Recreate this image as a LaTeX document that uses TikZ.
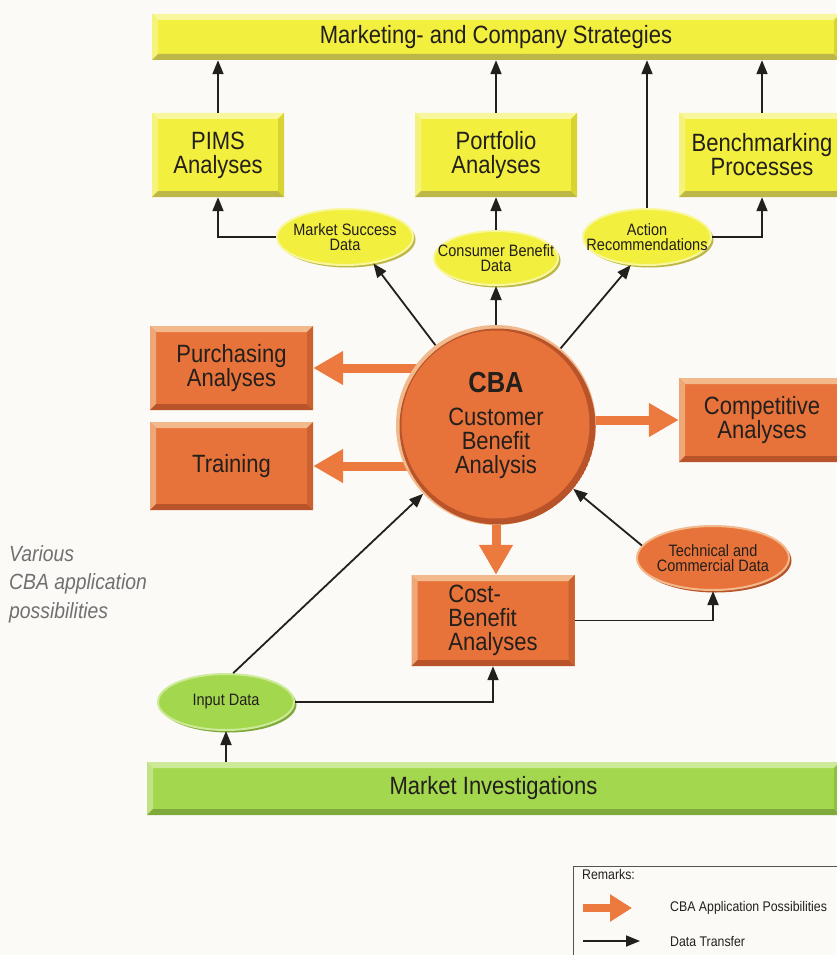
\documentclass[tikz,border=0pt]{standalone}
\usepackage{fontspec}
\setmainfont{Liberation Sans}[FakeStretch=0.88]
\usetikzlibrary{arrows.meta,shapes.geometric,shadows,calc}

% palette
\definecolor{paper}{HTML}{FBFAF7}
\definecolor{ink}{HTML}{231F1C}
\definecolor{ylface}{HTML}{F2EF3F}
\definecolor{yltop}{HTML}{F9F79E}
\definecolor{ylleft}{HTML}{F6F37C}
\definecolor{ylbottom}{HTML}{BDB747}
\definecolor{ylright}{HTML}{D8D432}
\definecolor{orface}{HTML}{E8733A}
\definecolor{ortop}{HTML}{F2B98C}
\definecolor{orleft}{HTML}{EFA777}
\definecolor{orbottom}{HTML}{B9532A}
\definecolor{orright}{HTML}{CC6130}
\definecolor{grface}{HTML}{A3D84E}
\definecolor{grtop}{HTML}{CDEA98}
\definecolor{grleft}{HTML}{BFE385}
\definecolor{grbottom}{HTML}{7FA93B}
\definecolor{grright}{HTML}{8FBE42}
\definecolor{orarrow}{HTML}{EC7A3F}
\definecolor{sidegray}{HTML}{707070}
\definecolor{legline}{HTML}{555555}

\pgfdeclarelayer{paperlayer}
\pgfdeclarelayer{back}
\pgfsetlayers{paperlayer,back,main}

% bevelled frame drawn inside a rectangular node: top, left, bottom, right
\newcommand{\bevelfaces}[4]{%
  \path (path picture bounding box.north west) coordinate (bvNW)
        (path picture bounding box.north east) coordinate (bvNE)
        (path picture bounding box.south west) coordinate (bvSW)
        (path picture bounding box.south east) coordinate (bvSE);
  \fill[#1] (bvNW) -- (bvNE) -- ([shift={(-6pt,-6pt)}]bvNE) -- ([shift={(6pt,-6pt)}]bvNW) -- cycle;
  \fill[#2] (bvNW) -- ([shift={(6pt,-6pt)}]bvNW) -- ([shift={(6pt,6pt)}]bvSW) -- (bvSW) -- cycle;
  \fill[#3] (bvSW) -- (bvSE) -- ([shift={(-6pt,6pt)}]bvSE) -- ([shift={(6pt,6pt)}]bvSW) -- cycle;
  \fill[#4] (bvNE) -- (bvSE) -- ([shift={(-6pt,6pt)}]bvSE) -- ([shift={(-6pt,-6pt)}]bvNE) -- cycle;
}
\newcommand{\bxfont}{\fontsize{25}{24}\selectfont}
\newcommand{\elfont}{\fontsize{16.5}{15}\selectfont}

\begin{document}
\begin{tikzpicture}[x=1pt,y=-1pt,
  every node/.style={text=ink},
  boxbase/.style={rectangle, inner sep=0pt, align=center, font=\bxfont},
  yellowbox/.style={boxbase, fill=ylface, path picture={\bevelfaces{yltop}{ylleft}{ylbottom}{ylright}}},
  orangebox/.style={boxbase, fill=orface, path picture={\bevelfaces{ortop}{orleft}{orbottom}{orright}}},
  greenbox/.style={boxbase, fill=grface, path picture={\bevelfaces{grtop}{grleft}{grbottom}{grright}}},
  ellbase/.style={ellipse, inner sep=-16pt, align=center, font=\elfont, line width=2pt},
  yellowell/.style={ellbase, fill=ylface, draw=yltop,
    drop shadow={shadow xshift=2.5pt, shadow yshift=-2.5pt, fill=ylbottom, opacity=1}},
  orangeell/.style={ellbase, fill=orface, draw=ortop,
    drop shadow={shadow xshift=2.5pt, shadow yshift=-2.5pt, fill=orbottom, opacity=1}},
  greenell/.style={ellbase, fill=grface, draw=grtop,
    drop shadow={shadow xshift=2.5pt, shadow yshift=-2.5pt, fill=grbottom, opacity=1}},
  cbacircle/.style={circle, minimum size=200pt, inner sep=0pt, align=center, font=\bxfont,
    path picture={
      \fill[ortop] (path picture bounding box.south west) rectangle (path picture bounding box.north east);
      \fill[orbottom] ([shift={(1.5pt,-1.5pt)}]path picture bounding box.center) circle (98pt);
      \fill[orface] ([shift={(-0.5pt,0.5pt)}]path picture bounding box.center) circle (94pt);
    }},
  data/.style={draw=ink, line width=1.8pt, -{Triangle[length=14pt,width=11pt]}},
  cbaarrow/.style={draw=orarrow, line width=9pt, -{Triangle[length=30pt,width=32pt]}},
  sidetext/.style={text=sidegray, font=\fontsize{22}{28}\selectfont\itshape, anchor=base west, inner sep=0pt},
  legendtext/.style={font=\fontsize{14}{14}\selectfont, inner sep=0pt}
]
\useasboundingbox (0,0) rectangle (836,955);
\begin{pgfonlayer}{paperlayer}
  \fill[paper] (0,0) rectangle (836,955);
\end{pgfonlayer}

% top and bottom bars
\node[yellowbox, minimum width=688pt, minimum height=46pt] (top) at (496,37) {Marketing- and Company Strategies};
\node[greenbox, minimum width=693pt, minimum height=53pt] (mi) at (493.5,788.5) {Market Investigations};

% analysis boxes
\node[yellowbox, minimum width=132pt, minimum height=84pt] (pims) at (218,155) {PIMS\\Analyses};
\node[yellowbox, minimum width=162pt, minimum height=84pt] (port) at (496,155) {Portfolio\\Analyses};
\node[yellowbox, minimum width=166pt, minimum height=84pt] (bench) at (762,155) {Benchmarking\\Processes};
\node[orangebox, minimum width=163pt, minimum height=84pt] (purch) at (231.5,368) {Purchasing\\Analyses};
\node[orangebox, minimum width=163pt, minimum height=88pt] (train) at (231.5,466) {Training};
\node[orangebox, minimum width=166pt, minimum height=84pt] (comp) at (762,420) {Competitive\\Analyses};
\node[orangebox, minimum width=163pt, minimum height=91pt, align=left] (cost) at (493,620.5) {Cost-\\Benefit\\Analyses};

% data ellipses
\node[yellowell, minimum width=136pt, minimum height=56pt] (msd) at (345,237) {Market Success\\Data};
\node[yellowell, minimum width=124pt, minimum height=54pt] (cbd) at (496,258) {Consumer Benefit\\Data};
\node[yellowell, minimum width=128pt, minimum height=56pt] (act) at (647,237) {Action\\Recommendations};
\node[orangeell, minimum width=152pt, minimum height=64pt] (tech) at (713,558) {Technical and\\Commercial Data};
\node[greenell, minimum width=136pt, minimum height=56pt] (inp) at (226,702) {Input Data};

% central circle
\node[cbacircle] (cba) at (496,425)
  {{\bfseries\fontsize{29}{30}\selectfont CBA}\\[9pt]Customer\\Benefit\\Analysis};

% application arrows
\begin{pgfonlayer}{back}
  \draw[cbaarrow] (cba.center |- purch.east) -- (purch.east);
  \draw[cbaarrow] (cba.center |- train.east) -- (train.east);
  \draw[cbaarrow] (cba.center |- comp.west) -- (comp.west);
  \draw[cbaarrow] (cba.center) -- (cba.center |- cost.north);
\end{pgfonlayer}

% data transfer
\draw[data] (pims.north) -- (pims.north |- top.south);
\draw[data] (port.north) -- (port.north |- top.south);
\draw[data] (bench.north) -- (bench.north |- top.south);
\draw[data] (act.north) -- (act.north |- top.south);
\draw[data] (msd.west) -| (pims.south);
\draw[data] (act.east) -| (bench.south);
\draw[data] (cbd.north) -- (port.south);
\draw[data] (cba) -- (msd.-43);
\draw[data] (cba.north) -- (cbd.south);
\draw[data] (cba) -- (act.-120);
\draw[data] (tech.170) -- (cba);
\draw[data] (inp.76) -- (cba);
\draw[data] (cost.east) -| (tech.south);
\draw[data] (inp.east) -| (cost.south);
\draw[data] (inp.south |- mi.north) -- (inp.south);

% side note
\node[sidetext] (side1) at (9,561) {Various};
\node[sidetext] (side2) at (9,589.5) {CBA application};
\node[sidetext] (side3) at (9,618) {possibilities};

% legend
\draw[legline, line width=1pt] (573,960) -- (573,866) -- (840,866);
\node[legendtext, anchor=base west] (rem) at (582,879) {Remarks:};
\coordinate (lgA1) at (583,908);
\coordinate (lgA2) at (632,908);
\draw[cbaarrow, line width=8pt, -{Triangle[length=22pt,width=26pt]}] (lgA1) -- (lgA2);
\node[legendtext, anchor=west] (lgt1) at (670,908) {CBA Application Possibilities};
\coordinate (lgB1) at (583,941);
\coordinate (lgB2) at (640,941);
\draw[data] (lgB1) -- (lgB2);
\node[legendtext, anchor=west] (lgt2) at (670,941) {Data Transfer};
\end{tikzpicture}
\end{document}
